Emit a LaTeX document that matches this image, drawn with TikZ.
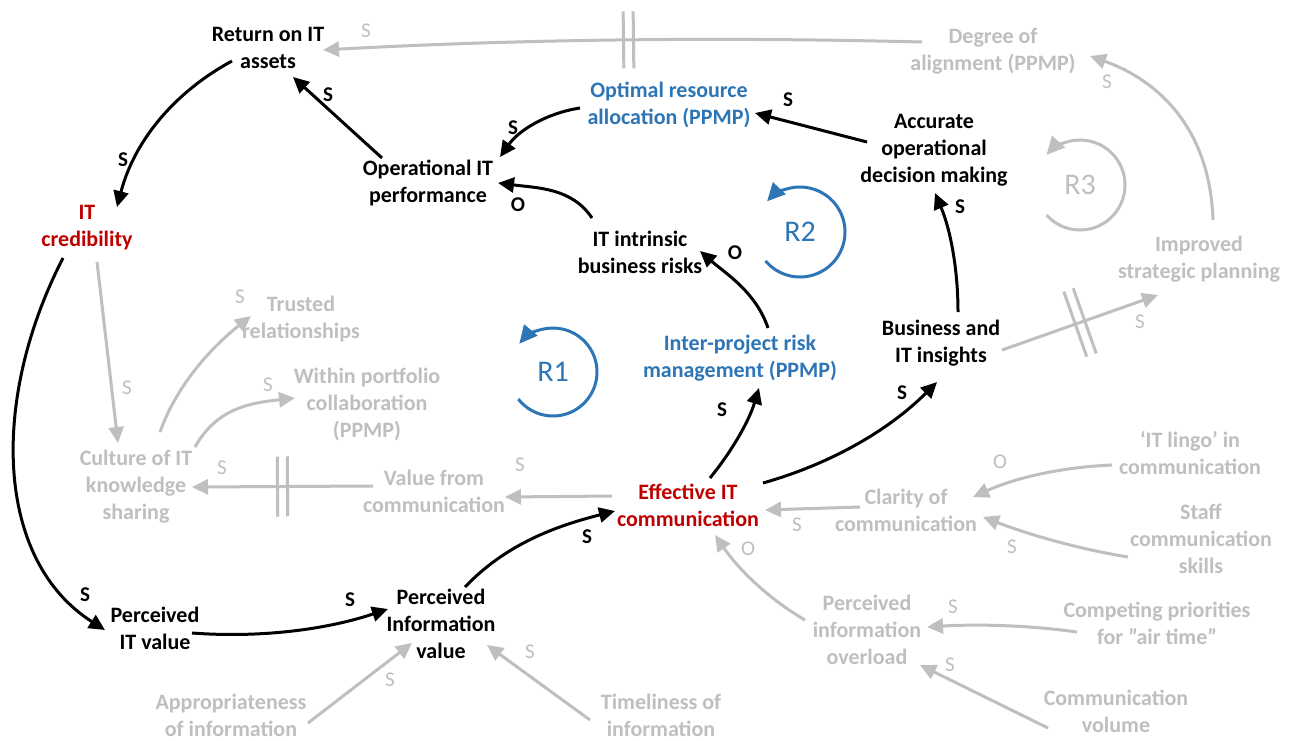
\documentclass[tikz,border=0pt]{standalone}
\usepackage{fontspec}
\setmainfont{Carlito}
\usetikzlibrary{arrows.meta}
\definecolor{dim}{RGB}{191,191,191}
\definecolor{loopblue}{RGB}{46,117,182}
\definecolor{alert}{RGB}{192,0,0}

\begin{document}
\begin{tikzpicture}[x=1pt,y=-1pt,
  var/.style={align=center, inner sep=0pt, font=\fontsize{22}{27}\selectfont\bfseries},
  core/.style={var, text=black},
  key/.style={var, text=alert},
  ppmp/.style={var, text=loopblue},
  faded/.style={var, text=dim},
  link/.style={line width=3pt, -{Triangle[length=16pt,width=15pt]}},
  strong/.style={link, draw=black},
  weak/.style={link, draw=dim},
  pol/.style={inner sep=0pt, font=\fontsize{21}{24}\selectfont\bfseries, text=black},
  polw/.style={inner sep=0pt, font=\fontsize{21}{24}\selectfont, text=dim},
  loopname/.style={inner sep=0pt, font=\fontsize{30}{36}\selectfont},
  looparc/.style={line width=3pt, -{Triangle[length=18pt,width=17pt]}},
  delaymark/.style={sloped, inner sep=0pt, minimum width=7pt, minimum height=#1},
  delaymark/.default=56pt,
  delayline/.style={draw=dim, line width=3pt},
]
\useasboundingbox[fill=white] (0,0) rectangle (1290,740);

% ---------- variables ----------
\node[core]  (roi)   at (268,48)   {Return on IT\\assets};
\node[key]   (cred)  at (87,228)   {IT\\credibility};
\node[core]  (opit)  at (428,183)  {Operational IT\\performance};
\node[ppmp]  (ora)   at (669,105)  {Optimal resource\\allocation (PPMP)};
\node[core]  (risk)  at (640,252)  {IT intrinsic\\business risks};
\node[core]  (acc)   at (934,150)  {Accurate\\operational\\decision making};
\node[core]  (bit)   at (941,343)  {Business and\\IT insights};
\node[key]   (eff)   at (688,505)  {Effective IT\\communication};
\node[core]  (piv)   at (441,624)  {Perceived\\Information\\value};
\node[core]  (pitv)  at (155,628)  {Perceived\\IT value};
\node[ppmp]  (irm)   at (740,358)  {Inter-project risk\\management (PPMP)};
\node[faded] (doa)   at (993,51)   {Degree of\\alignment (PPMP)};
\node[faded] (isp)   at (1199,259) {Improved\\strategic planning};
\node[faded] (trust) at (301,319)  {Trusted\\relationships};
\node[faded] (wpc)   at (367,404)  {Within portfolio\\collaboration\\(PPMP)};
\node[faded] (cult)  at (136,487)  {Culture of IT\\knowledge\\sharing};
\node[faded] (vfc)   at (434,491)  {Value from\\communication};
\node[faded] (cla)   at (906,510)  {Clarity of\\communication};
\node[faded] (lingo) at (1190,453) {‘IT lingo’ in\\communication};
\node[faded] (staff) at (1201,539) {Staff\\communication\\skills};
\node[faded] (pio)   at (867,630)  {Perceived\\information\\overload};
\node[faded] (comp)  at (1157,623) {Competing priorities\\for ”air time”};
\node[faded] (vol)   at (1116,711) {Communication\\volume};
\node[faded] (appr)  at (231,715)  {Appropriateness\\of information};
\node[faded] (time)  at (661,715)  {Timeliness of\\information};

% ---------- loop markers ----------
\node[loopname, text=loopblue] (r1) at (553,372) {R1};
\node[loopname, text=loopblue] (r2) at (800,232) {R2};
\node[loopname, text=dim]      (r3) at (1080,185) {R3};
\draw[looparc, draw=loopblue] (r1.center) ++(142:44) arc[start angle=142, end angle=-140, radius=44];
\draw[looparc, draw=loopblue] (r2.center) ++(140:45) arc[start angle=140, end angle=-137, radius=45];
\draw[looparc, draw=dim]      (r3.center) ++(138:45) arc[start angle=138, end angle=-138, radius=45];

% ---------- main (black) links ----------
\draw[strong] ([shift={(-36,13)}]roi.center) .. controls +(-59,32) and +(17,-65) .. ([shift={(30,-21)}]cred.center);
\draw[strong] ([shift={(-46,-25)}]opit.center) -- ([shift={(25,29)}]roi.center);
\draw[strong] ([shift={(-89,3)}]ora.center) .. controls +(-33,5) and +(19,-27) .. ([shift={(72,-26)}]opit.center);
\draw[strong] ([shift={(-48,-34)}]risk.center) .. controls +(-20,-30) and +(40,5) .. ([shift={(70,0)}]opit.center);
\draw[strong] ([shift={(-67,-8)}]acc.center) -- ([shift={(86,8)}]ora.center);
\draw[strong] ([shift={(17,-31)}]bit.center) .. controls +(0,-41) and +(16,38) .. ([shift={(1,43)}]acc.center);
\draw[strong] ([shift={(28,-30)}]irm.center) .. controls +(-12,-36) and +(25,22) .. ([shift={(60,-1)}]risk.center);
\draw[strong] ([shift={(22,-27)}]eff.center) .. controls +(22,-27) and +(-10,33) .. ([shift={(19,30)}]irm.center);
\draw[strong] ([shift={(75,-22)}]eff.center) .. controls +(67,-19) and +(-49,49) .. ([shift={(-4,39)}]bit.center);
\draw[strong] ([shift={(-24,30)}]cred.center) .. controls +(-73,142) and +(-110,-70) .. ([shift={(-50,2)}]pitv.center);
\draw[strong] ([shift={(37,5)}]pitv.center) .. controls +(67,5) and +(-63,21) .. ([shift={(-53,-15)}]piv.center);
\draw[strong] ([shift={(24,-37)}]piv.center) .. controls +(41,-43) and +(-59,15) .. ([shift={(-73,6)}]eff.center);

% ---------- secondary (grey) links ----------
\draw[weak] ([shift={(-71,-9)}]doa.center) .. controls +(-200,-5) and +(200,-11) .. node[delaymark=54pt, pos=0.49] (lag1) {} ([shift={(55,2)}]roi.center);
\draw[weak] ([shift={(14,-39)}]isp.center) .. controls +(-3,-90) and +(70,25) .. ([shift={(97,5)}]doa.center);
\draw[weak] ([shift={(61,7)}]bit.center) -- node[delaymark=66pt, pos=0.5] (lag2) {} ([shift={(-41,36)}]isp.center);
\draw[weak] ([shift={(10,34)}]cred.center) -- ([shift={(-18,-44)}]cult.center);
\draw[weak] ([shift={(24,-55)}]cult.center) .. controls +(17,-48) and +(-38,30) .. ([shift={(-50,-3)}]trust.center);
\draw[weak] ([shift={(59,-40)}]cult.center) .. controls +(22,-39) and +(-45,5) .. ([shift={(-72,-6)}]wpc.center);
\draw[weak] ([shift={(-61,-5)}]vfc.center) -- node[delaymark=57pt, pos=0.5] (lag3) {} ([shift={(56,0)}]cult.center);
\draw[weak] ([shift={(-76,-9)}]eff.center) -- ([shift={(71,6)}]vfc.center);
\draw[weak] ([shift={(-46,-3)}]cla.center) -- ([shift={(77,5)}]eff.center);
\draw[weak] ([shift={(-78,12)}]lingo.center) .. controls +(-48,2) and +(44,-20) .. ([shift={(67,-13)}]cla.center);
\draw[weak] ([shift={(-73,18)}]staff.center) .. controls +(-49,-8) and +(47,18) .. ([shift={(77,7)}]cla.center);
\draw[weak] ([shift={(-62,-10)}]pio.center) .. controls +(-36,-21) and +(24,35) .. ([shift={(27,30)}]eff.center);
\draw[weak] ([shift={(-80,9)}]comp.center) .. controls +(-50,-7) and +(50,-3) .. ([shift={(60,-3)}]pio.center);
\draw[weak] ([shift={(-68,17)}]vol.center) -- ([shift={(53,35)}]pio.center);
\draw[weak] ([shift={(77,8)}]appr.center) -- ([shift={(-29,19)}]piv.center);
\draw[weak] ([shift={(-71,5)}]time.center) -- ([shift={(46,21)}]piv.center);

% delay marks
\foreach \d in {lag1,lag2,lag3}{
  \draw[delayline] (\d.north west) -- (\d.south west) (\d.north east) -- (\d.south east);
}

% ---------- polarity labels ----------
\node[pol] (p1)  at (123,160) {S};
\node[pol] (p2)  at (328,95)  {S};
\node[pol] (p3)  at (513,128) {S};
\node[pol] (p4)  at (518,205) {O};
\node[pol] (p5)  at (788,100) {S};
\node[pol] (p6)  at (960,207) {S};
\node[pol] (p7)  at (735,253) {O};
\node[pol] (p8)  at (722,410) {S};
\node[pol] (p9)  at (902,393) {S};
\node[pol] (p10) at (85,595)  {S};
\node[pol] (p11) at (350,600) {S};
\node[pol] (p12) at (587,537) {S};

\node[polw] (q1)  at (366,31)   {S};
\node[polw] (q2)  at (1107,82)  {S};
\node[polw] (q3)  at (1140,322) {S};
\node[polw] (q4)  at (127,388)  {S};
\node[polw] (q5)  at (240,297)  {S};
\node[polw] (q6)  at (268,385)  {S};
\node[polw] (q7)  at (222,468)  {S};
\node[polw] (q8)  at (520,465)  {S};
\node[polw] (q9)  at (797,525)  {S};
\node[polw] (q10) at (1000,462) {O};
\node[polw] (q11) at (1012,547) {S};
\node[polw] (q12) at (748,549)  {O};
\node[polw] (q13) at (953,607)  {S};
\node[polw] (q14) at (950,665)  {S};
\node[polw] (q15) at (390,680)  {S};
\node[polw] (q16) at (530,652)  {S};
\end{tikzpicture}
\end{document}
